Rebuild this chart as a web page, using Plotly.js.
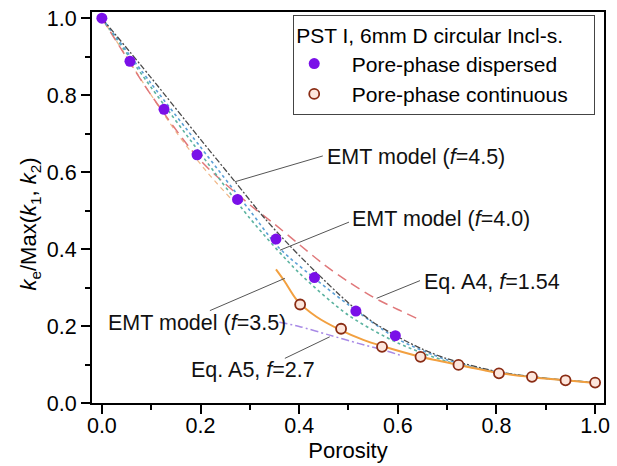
<!DOCTYPE html>
<html>
<head>
<meta charset="utf-8">
<script src="https://cdn.plot.ly/plotly-3.0.1.min.js"></script>
<style>html,body{margin:0;padding:0;background:#fff;}#chart{width:617px;height:466px;}</style>
</head>
<body>
<div id="chart"></div>
<script>
// ---- measured data ----
const porosityDispersed = [0, 0.057, 0.126, 0.193, 0.275, 0.353, 0.431, 0.515, 0.595];
const keDispersed       = [1.0, 0.888, 0.763, 0.645, 0.529, 0.426, 0.326, 0.239, 0.175];
const porosityContinuous = [0.402, 0.485, 0.568, 0.646, 0.723, 0.805, 0.872, 0.94, 1.0];
const keContinuous       = [0.256, 0.193, 0.146, 0.120, 0.099, 0.077, 0.068, 0.059, 0.053];

// EMT model f=4.5 (dash-dot)
const emt45P = [0, 0.1, 0.2, 0.27, 0.33, 0.38, 0.43, 0.5, 0.55, 0.6, 0.65, 0.7, 0.8, 0.9, 1.0];
const emt45K = [1.0, 0.845, 0.685, 0.575, 0.48, 0.41, 0.345, 0.26, 0.21, 0.172, 0.14, 0.115, 0.082, 0.064, 0.053];
// EMT model f=4.0 (blue dotted)
const emt40P = [0, 0.1, 0.2, 0.3, 0.36, 0.44, 0.5, 0.6, 0.7, 0.8, 0.9, 1.0];
const emt40K = [1.0, 0.83, 0.665, 0.5, 0.402, 0.315, 0.255, 0.166, 0.112, 0.081, 0.064, 0.053];
// teal dotted companion curve
const tealP = [0, 0.1, 0.2, 0.3, 0.4, 0.5, 0.6, 0.7, 0.8, 0.9, 1.0];
const tealK = [1.0, 0.82, 0.648, 0.48, 0.338, 0.228, 0.156, 0.108, 0.08, 0.064, 0.053];
// EMT model f=3.5 : dashed part and solid part
const emt35DashP = [0, 0.1, 0.15, 0.21, 0.26];
const emt35DashK = [1.0, 0.80, 0.705, 0.605, 0.533];
const emt35P = [0.353, 0.371, 0.395, 0.435, 0.483, 0.53, 0.568, 0.646, 0.723, 0.805, 0.872, 0.94, 1.0];
const emt35K = [0.347, 0.315, 0.268, 0.224, 0.19, 0.164, 0.148, 0.12, 0.099, 0.078, 0.067, 0.059, 0.052];
// Eq. A4, f=1.54 (long dash)
const eqA4P = [0, 0.1, 0.2, 0.3, 0.35, 0.4, 0.45, 0.5, 0.55, 0.6, 0.645];
const eqA4K = [1.0, 0.80, 0.63, 0.515, 0.465, 0.412, 0.36, 0.315, 0.275, 0.243, 0.216];
// Eq. A5, f=2.7 (purple dash-dot)
const eqA5P = [0.36, 0.4, 0.46, 0.52, 0.57, 0.61];
const eqA5K = [0.21, 0.199, 0.177, 0.155, 0.138, 0.122];

const xTicks = [0, 0.2, 0.4, 0.6, 0.8, 1.0];
const xTickText = ['0.0', '0.2', '0.4', '0.6', '0.8', '1.0'];
const yTicks = [0, 0.2, 0.4, 0.6, 0.8, 1.0];
const yTickText = ['0.0', '0.2', '0.4', '0.6', '0.8', '1.0'];

const FONT = 'Liberation Sans, Arial, sans-serif';
const NB = '\u00a0';
const pad = s => '<span style="color:rgba(0,0,0,0)">' + s + '</span>';

function line(x, y, color, dash, width) {
  return {x: x, y: y, type: 'scatter', mode: 'lines', showlegend: false, hoverinfo: 'skip',
          line: {color: color, dash: dash, width: width, shape: 'spline', smoothing: 0.8}};
}

const traces = [
  line(emt35DashP, emt35DashK, '#f0b888', '5px,4px', 1.2),
  line(eqA4P, eqA4K, '#e0787a', '10px,6px', 1.5),
  line(tealP, tealK, '#5cb3a0', 'dot', 1.6),
  line(emt40P, emt40K, '#5a9fd6', 'dot', 1.6),
  line(emt45P, emt45K, '#4a4a4a', '6px,2px,2px,2px', 1.3),
  line(eqA5P, eqA5K, '#a88ae6', '8px,3px,2px,3px', 1.5),
  line(emt35P, emt35K, '#f2a040', 'solid', 2),
  {x: porosityDispersed, y: keDispersed, type: 'scatter', mode: 'markers',
   name: NB + NB + NB + 'Pore-phase dispersed',
   marker: {symbol: 'circle', size: 11, color: '#7a10e8', line: {width: 0}}},
  {x: porosityContinuous, y: keContinuous, type: 'scatter', mode: 'markers',
   name: NB + NB + NB + 'Pore-phase continuous' + pad('xx'),
   marker: {symbol: 'circle', size: 10, color: '#fde6dc', line: {width: 1.8, color: '#8a2c14'}}}
];

const annFont = {family: FONT, size: 21.5, color: '#111'};
function label(text, x, y) {
  return {text: text, x: x, y: y, xref: 'x', yref: 'y', xanchor: 'left', yanchor: 'middle',
          showarrow: false, font: annFont};
}
function leader(x0, y0, x1, y1) {
  return {type: 'line', xref: 'x', yref: 'y', x0: x0, y0: y0, x1: x1, y1: y1,
          line: {color: '#555', width: 1}};
}

const layout = {
  width: 617, height: 466,
  margin: {l: 92, r: 13, t: 12, b: 63},
  paper_bgcolor: '#fff', plot_bgcolor: '#fff',
  font: {family: FONT, size: 21, color: '#000'},
  xaxis: {
    range: [-0.02, 1.018], tickvals: xTicks, ticktext: xTickText,
    ticks: 'outside', ticklen: 9, tickwidth: 2, tickcolor: '#000',
    minor: {tickvals: [0.1, 0.3, 0.5, 0.7, 0.9], ticks: 'outside', ticklen: 5, tickwidth: 2, tickcolor: '#000'},
    showline: true, linewidth: 2, linecolor: '#000', mirror: true, showgrid: false, zeroline: false,
    tickfont: {family: FONT, size: 21.5}, ticklabelstandoff: -7,
    title: {text: 'Porosity', font: {family: FONT, size: 22}, standoff: 0}
  },
  yaxis: {
    range: [0, 1.016], tickvals: yTicks, ticktext: yTickText,
    ticks: 'outside', ticklen: 9, tickwidth: 2, tickcolor: '#000',
    minor: {tickvals: [0.1, 0.3, 0.5, 0.7, 0.9], ticks: 'outside', ticklen: 5, tickwidth: 2, tickcolor: '#000'},
    showline: true, linewidth: 2, linecolor: '#000', mirror: true, showgrid: false, zeroline: false,
    tickfont: {family: FONT, size: 21.5},
    title: {text: '<i>k</i><sub>e</sub>/Max(<i>k</i><sub>1</sub>, <i>k</i><sub>2</sub>)' + pad('xxx'),
            font: {family: FONT, size: 22}, standoff: 4}
  },
  legend: {
    x: 0.393, y: 0.992, xanchor: 'left', yanchor: 'top',
    bgcolor: '#fff', bordercolor: '#444', borderwidth: 1,
    font: {family: FONT, size: 21, color: '#000'},
    title: {text: 'PST I, 6mm D circular Incl-s.', font: {family: FONT, size: 21, color: '#000'}},
    tracegroupgap: 0
  },
  annotations: [
    label('EMT model (<i>f</i>=4.5)', 0.452, 0.639),
    label('EMT model (<i>f</i>=4.0)', 0.503, 0.478),
    label('EMT model (<i>f</i>=3.5)', 0.008, 0.208),
    label('Eq. A4, <i>f</i>=1.54', 0.648, 0.315),
    label('Eq. A5, <i>f</i>=2.7', 0.176, 0.086)
  ],
  shapes: [
    leader(0.448, 0.642, 0.27, 0.575),
    leader(0.501, 0.47, 0.361, 0.397),
    leader(0.219, 0.24, 0.371, 0.324),
    leader(0.645, 0.318, 0.557, 0.272),
    leader(0.371, 0.116, 0.462, 0.172)
  ]
};

Plotly.newPlot('chart', traces, layout, {displayModeBar: false, staticPlot: true});
</script>
</body>
</html>
